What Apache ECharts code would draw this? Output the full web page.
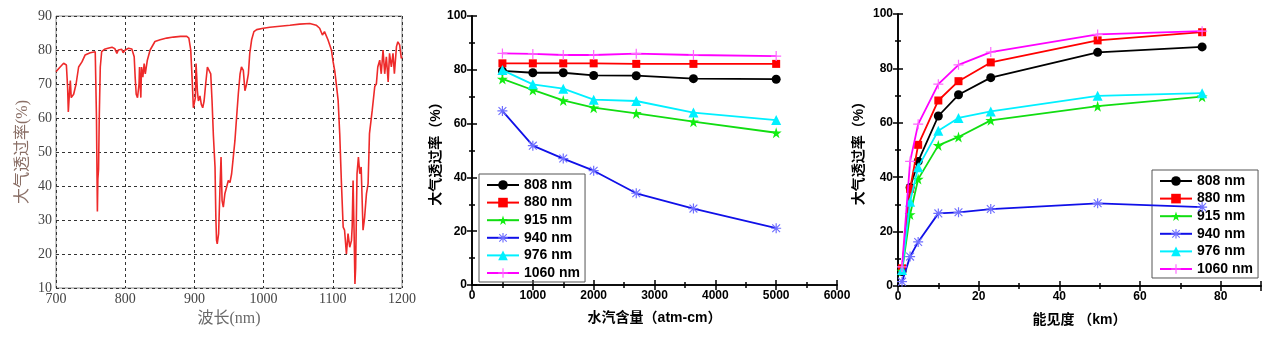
<!DOCTYPE html>
<html>
<head>
<meta charset="utf-8">
<script src="https://cdn.jsdelivr.net/npm/echarts@6/dist/echarts.min.js"></script>
<style>
html,body{margin:0;padding:0;background:#fff;}
#main{width:1264px;height:337px;}
</style>
</head>
<body>
<div id="main"></div>
<script>
// ---------- Chart 1: spectrum ----------
var spectrumWavelength = [700,705,711,713.5,715,716.8,717.8,719,720.7,722,725.5,729,732.7,737.5,742,749.5,756.7,757.8,758.5,759.3,759.8,760.5,761.5,762.5,764,766,770,775,781,785,788,790,792.8,795,797,800,804.8,807,809.6,813,814.4,815.9,817.8,820,820.7,821.6,822.6,823.6,825.5,827.4,829,832,836,843,850.5,860,869.7,880,889,892,894.7,896.6,898.5,900,901.4,902.4,903.4,904.3,905.8,908,910,912,914,916.3,918.8,921.6,923.6,925.5,927.4,929.8,931,932,933,935,937,938.5,940,941.8,944,946.6,949,951.4,953.8,956.2,958.6,961,963.5,966,968,970.7,973,975.5,978,980,982.7,986,990,999.5,1009,1023.5,1038,1052,1066.8,1076,1081,1085,1088,1093,1098,1100.5,1103,1105,1107.7,1110,1112.5,1115,1117,1119.7,1122,1124.5,1127,1128,1129.3,1130.8,1132,1133,1135,1137,1139,1141,1143.7,1146,1148.6,1151,1153,1157,1160.6,1163,1165,1167.8,1170,1172.6,1175,1177.4,1180,1182,1184.6,1187,1189,1192,1194,1196.6,1199,1200];
var spectrumTransmittance = [73.6,74.8,76.1,76.4,75.6,69,61.8,66,71,66,67,70,75,76.5,78.5,79.2,79.5,79.3,60,42.6,32.5,42,45,60,75,79.5,80.2,80.5,80.8,80.4,79,80,79.6,80.2,79.2,80,80.5,80.8,80.3,78,72,67,66,70,75,70,66,75,72,76,73,77,80,82.5,83,83.5,83.8,84,84,83.5,80,72,63,62.5,66,76,72,68,65,66.5,64,63,65,70,75,74.5,73,65,55,45.6,30.8,24,23,26,39.7,48.5,35.7,33.8,37.7,39.7,41.6,41,43.6,48.5,53.4,60.3,67.2,73,75,74,68,70,73,79,83,85.4,86,86.4,86.7,87,87.3,87.6,87.8,87.3,86.4,84.4,85.4,83,80,76.5,73.6,70.1,65.2,55.4,40.7,27.9,27,20,26,22,24,28,41.6,26,11.2,16,43.6,48.5,43.6,45.6,27,30.8,37.7,40.7,55.4,62.3,69.2,70.1,75,77,73,80,73,78,70.6,79,75,79,73,81,82.4,81.5,77.5,78];

// ---------- Chart 2: vs water vapour ----------
var waterVapor = [500,1000,1500,2000,2700,3640,5000];
var wv808  = [79.6,78.9,78.9,77.9,77.8,76.7,76.5];
var wv880  = [82.4,82.4,82.4,82.4,82.2,82.2,82.2];
var wv915  = [76.6,72.5,68.6,65.9,63.8,60.7,56.6];
var wv940  = [64.7,51.8,47.0,42.5,34.1,28.4,21.1];
var wv976  = [79.9,74.6,73.0,68.9,68.4,64.1,61.3];
var wv1060 = [86.1,85.9,85.5,85.5,86.0,85.5,85.1];

// ---------- Chart 3: vs visibility ----------
var visibility = [1,3,5,10,15,23,49.5,75.4];
var vis808  = [5.3,36.2,45.8,62.5,70.3,76.6,85.9,87.9];
var vis880  = [6.5,35.7,51.9,68.2,75.3,82.2,90.3,93.3];
var vis915  = [5.5,26.3,39.3,51.7,54.8,60.9,66.1,69.6];
var vis940  = [1.6,10.8,16.2,26.7,27.1,28.3,30.4,29.0];
var vis976  = [5.9,31.0,43.7,57.1,61.8,64.2,69.9,70.9];
var vis1060 = [7.0,45.8,59.5,74.2,81.3,86.0,92.5,93.7];

var seriesNames = ['808 nm','880 nm','915 nm','940 nm','976 nm','1060 nm'];

function zip(xs, ys){ return xs.map(function(x,i){ return [x, ys[i]]; }); }

var starPath = 'path://M50,0 L61,35 L98,35 L68,57 L79,91 L50,70 L21,91 L32,57 L2,35 L39,35 Z';
var asteriskPath = 'path://M0,44 L100,44 L100,56 L0,56 Z M44,0 L56,0 L56,100 L44,100 Z M7,15 L15,7 L93,85 L85,93 Z M85,7 L93,15 L15,93 L7,85 Z';
var plusPath = 'path://M0,44 L100,44 L100,56 L0,56 Z M44,0 L56,0 L56,100 L44,100 Z';

var styles = [
  {line:'#000000', mark:'#000000', symbol:'circle', size:9},
  {line:'#ff0000', mark:'#ff0000', symbol:'rect', size:8},
  {line:'#11dd11', mark:'#11ee11', symbol:starPath, size:11},
  {line:'#1010e8', mark:'#6f6fff', symbol:asteriskPath, size:10},
  {line:'#00f0ff', mark:'#00f0ff', symbol:'triangle', size:10},
  {line:'#ff00ff', mark:'#ff66ff', symbol:plusPath, size:10}
];

var wvData = [wv808, wv880, wv915, wv940, wv976, wv1060];
var visData = [vis808, vis880, vis915, vis940, vis976, vis1060];

var boldFont = '"Liberation Sans", Arial, "Noto Sans CJK SC", sans-serif';
var serifFont = '"Liberation Serif", "Times New Roman", "Noto Sans CJK SC", serif';

function mkSeries(xIdx, yIdx, xs, ysArr){
  return ysArr.map(function(ys, i){
    var s = styles[i];
    return {
      type:'line', name: seriesNames[i], xAxisIndex:xIdx, yAxisIndex:yIdx,
      data: zip(xs, ys), symbol: s.symbol, symbolSize: s.size, showAllSymbol:true,
      lineStyle:{color:s.line, width:1.8},
      itemStyle:{color:s.mark, borderWidth:0},
      emphasis:{disabled:true}, animation:false, z: 2 + i
    };
  });
}

function boxX(grid, min, max, interval, name, nameGap){
  return [{
    gridIndex:grid, type:'value', min:min, max:max, interval:interval, position:'bottom',
    axisLine:{show:true, lineStyle:{color:'#000', width:1.6}},
    axisTick:{show:true, inside:true, length:5, lineStyle:{color:'#000', width:1.5}},
    minorTick:{show:true, splitNumber:2, length:3, lineStyle:{color:'#000', width:1.5}},
    splitLine:{show:false},
    axisLabel:{color:'#000', fontFamily:boldFont, fontWeight:'bold', fontSize:12, margin:5, showMinLabel:true, showMaxLabel:true,
      formatter:function(v){ return (max===90 && v>=90) ? '' : String(v); }},
    name:name, nameLocation:'middle', nameGap:nameGap,
    nameTextStyle:{color:'#000', fontFamily:boldFont, fontWeight:'bold', fontSize:14}
  },{
    gridIndex:grid, type:'value', min:min, max:max, interval:interval, position:'top',
    axisLine:{show:true, lineStyle:{color:'#000', width:1.6}},
    axisTick:{show:true, inside:true, length:5, lineStyle:{color:'#000', width:1.5}},
    minorTick:{show:true, splitNumber:2, length:3, lineStyle:{color:'#000', width:1.5}},
    splitLine:{show:false}, axisLabel:{show:false}
  }];
}
function boxY(grid, name, nameGap){
  return [{
    gridIndex:grid, type:'value', min:0, max:100, interval:20, position:'left',
    axisLine:{show:true, lineStyle:{color:'#000', width:1.6}},
    axisTick:{show:true, inside:true, length:5, lineStyle:{color:'#000', width:1.5}},
    minorTick:{show:true, splitNumber:2, length:3, lineStyle:{color:'#000', width:1.5}},
    splitLine:{show:false},
    axisLabel:{color:'#000', fontFamily:boldFont, fontWeight:'bold', fontSize:12, margin:5, showMinLabel:true, showMaxLabel:true},
    name:name, nameLocation:'middle', nameGap:nameGap, nameRotate:90,
    nameTextStyle:{color:'#000', fontFamily:boldFont, fontWeight:'bold', fontSize:14}
  },{
    gridIndex:grid, type:'value', min:0, max:100, interval:20, position:'right',
    axisLine:{show:true, lineStyle:{color:'#000', width:1.6}},
    axisTick:{show:true, inside:true, length:5, lineStyle:{color:'#000', width:1.5}},
    minorTick:{show:true, splitNumber:2, length:3, lineStyle:{color:'#000', width:1.5}},
    splitLine:{show:false}, axisLabel:{show:false}
  }];
}

function mkLegend(left, top){
  return {
    left:left, top:top, orient:'vertical', selectedMode:false,
    data: seriesNames.map(function(n){ return {name:n}; }),
    itemWidth:32, itemHeight:12, itemGap:3.6,
    borderColor:'#555', borderWidth:1, padding:[4,5,2,7],
    textStyle:{color:'#000', fontFamily:boldFont, fontWeight:'bold', fontSize:14}
  };
}

var xAxes = [{
  gridIndex:0, type:'value', min:700, max:1200, interval:100,
  axisLine:{show:false}, axisTick:{show:false},
  splitLine:{show:true, lineStyle:{color:'#333', type:[3,3], width:1}},
  axisLabel:{color:'#444', fontFamily:serifFont, fontSize:14, margin:4, showMinLabel:true, showMaxLabel:true,
    formatter:function(v){ return String(v); }},
  name:'波长(nm)', nameLocation:'middle', nameGap:19,
  nameTextStyle:{color:'#6a6a6a', fontFamily:serifFont, fontSize:16}
}].concat(boxX(1, 0, 6000, 1000, '水汽含量（atm-cm）', 26))
  .concat(boxX(2, 0, 90, 20, '能见度 （km）', 27));

var yAxes = [{
  gridIndex:0, type:'value', min:10, max:90, interval:10,
  axisLine:{show:false}, axisTick:{show:false},
  splitLine:{show:true, lineStyle:{color:'#333', type:[3,3], width:1}},
  axisLabel:{color:'#444', fontFamily:serifFont, fontSize:14, margin:4, showMinLabel:true, showMaxLabel:true},
  name:'大气透过率(%)', nameLocation:'middle', nameGap:25, nameRotate:90,
  nameTextStyle:{color:'#8a6f66', fontFamily:serifFont, fontSize:16}
}].concat(boxY(1, '大气透过率（%）', 29)).concat(boxY(2, '大气透过率（%）', 32));

var series = [{
  type:'line', xAxisIndex:0, yAxisIndex:0, data: zip(spectrumWavelength, spectrumTransmittance),
  symbol:'none', lineStyle:{color:'#ee2a2a', width:1.6}, animation:false, emphasis:{disabled:true}
}].concat(mkSeries(1, 1, waterVapor, wvData)).concat(mkSeries(3, 3, visibility, visData));

var option = {
  backgroundColor:'#fff',
  animation:false,
  grid:[
    {left:56, top:16, width:346, height:272, show:true, borderColor:'#8a8a8a', borderWidth:1, backgroundColor:'transparent'},
    {left:472, top:16, width:365, height:269},
    {left:898, top:14, width:363, height:272}
  ],
  xAxis: xAxes,
  yAxis: yAxes,
  legend:[mkLegend(479, 174), mkLegend(1152, 170)],
  series: series
};

var chart = echarts.init(document.getElementById('main'), null, {renderer:'canvas'});
chart.setOption(option);
</script>
</body>
</html>
